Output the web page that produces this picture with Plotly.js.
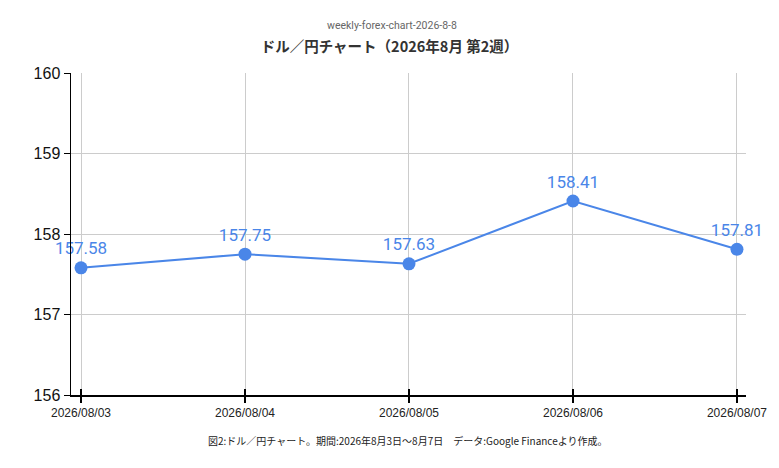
<!DOCTYPE html>
<html>
<head>
<meta charset="utf-8">
<script src="https://cdn.plot.ly/plotly-3.0.1.min.js"></script>
<style>html,body{margin:0;padding:0;background:#fff;}#chart{width:779px;height:468px;}</style>
</head>
<body>
<div id="chart"></div>
<script>
var dates = ["2026/08/03", "2026/08/04", "2026/08/05", "2026/08/06", "2026/08/07"];
var rates = [157.58, 157.75, 157.63, 158.41, 157.81];
var yTicks = [156, 157, 158, 159, 160];
var titleText = "ドル／円チャート（2026年8月 第2週）";
var subtitleText = "weekly-forex-chart-2026-8-8";
var captionText = "図2:ドル／円チャート。期間:2026年8月3日〜8月7日　データ:Google Financeより作成。";

var idx = dates.map(function(d, i){ return i; });
var blue = "#4a86e8";

var traces = [
  {
    x: idx, y: rates, type: "scatter", mode: "lines+markers+text",
    text: rates.map(function(v){ return v.toFixed(2); }),
    textposition: "top center",
    textfont: {family: "Roboto, Arial, sans-serif", size: 17, color: blue},
    line: {color: blue, width: 2},
    marker: {color: blue, size: 13},
    cliponaxis: false,
    hoverinfo: "none",
    xaxis: "x", yaxis: "y"
  },
  {
    x: idx, y: rates, type: "scatter", mode: "markers",
    marker: {opacity: 0}, hoverinfo: "none", showlegend: false,
    xaxis: "x2", yaxis: "y"
  }
];

var xr = [-0.061, 4.055];
var layout = {
  width: 779, height: 468,
  margin: {l: 71, r: 33, t: 73, b: 73},
  paper_bgcolor: "#fff", plot_bgcolor: "#fff",
  showlegend: false,
  title: {
    text: "<b>" + titleText + "</b>",
    font: {family: "'Noto Sans CJK JP', sans-serif", size: 14.5, color: "#333"},
    x: 0.5, xanchor: "center", xref: "container",
    y: 1 - 47 / 468, yanchor: "middle", yref: "container"
  },
  xaxis: {
    range: xr, tickmode: "array", tickvals: idx, ticktext: dates,
    showgrid: true, gridcolor: "#cccccc", gridwidth: 1,
    zeroline: false, showline: true, linecolor: "#000", linewidth: 1.5,
    ticks: "outside", ticklen: 6, tickwidth: 2, tickcolor: "#000",
    tickfont: {family: "'Liberation Sans', Arial, sans-serif", size: 12, color: "#222"},
    fixedrange: true
  },
  xaxis2: {
    range: xr, overlaying: "x", anchor: "y", matches: "x",
    tickmode: "array", tickvals: idx, showticklabels: false,
    showgrid: false, zeroline: false, showline: false,
    ticks: "inside", ticklen: 6, tickwidth: 2, tickcolor: "#000"
  },
  yaxis: {
    range: [156, 160], tickmode: "array", tickvals: yTicks,
    ticktext: yTicks.map(String),
    showgrid: true, gridcolor: "#cccccc", gridwidth: 1,
    zeroline: false, showline: true, linecolor: "#000", linewidth: 1.5,
    ticks: "outside", ticklen: 6, tickwidth: 1, tickcolor: "#000",
    tickfont: {family: "'Liberation Sans', Arial, sans-serif", size: 16, color: "#111"},
    fixedrange: true
  },
  annotations: [
    {
      text: subtitleText, xref: "paper", yref: "paper",
      x: (392 - 71) / 675, y: (395 - 26) / 322, xanchor: "center", yanchor: "middle",
      showarrow: false,
      font: {family: "Roboto, Arial, sans-serif", size: 10.5, color: "#666"}
    },
    {
      text: captionText, xref: "paper", yref: "paper",
      x: (408 - 71) / 675, y: (395 - 440) / 322, xanchor: "center", yanchor: "middle",
      showarrow: false,
      font: {family: "'Noto Sans CJK JP', sans-serif", size: 10, color: "#222"}
    }
  ]
};

Plotly.newPlot("chart", traces, layout, {displayModeBar: false, staticPlot: true});
</script>
</body>
</html>
